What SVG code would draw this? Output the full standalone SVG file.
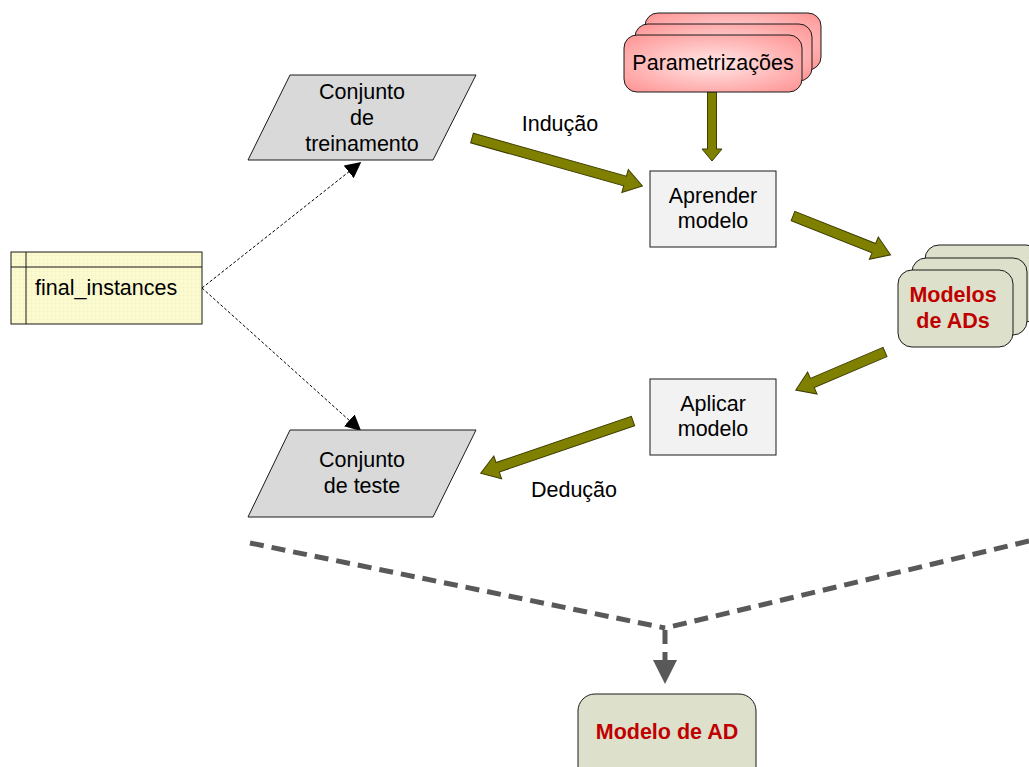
<svg xmlns="http://www.w3.org/2000/svg" width="1029" height="767" viewBox="0 0 1029 767">
  <defs>
    <radialGradient id="pinkFill" cx="50%" cy="50%" r="65%">
      <stop offset="0" stop-color="#ffe8e8"/>
      <stop offset="1" stop-color="#ff9898"/>
    </radialGradient>
    <pattern id="grid" width="4" height="4" patternUnits="userSpaceOnUse">
      <rect width="4" height="4" fill="#fbfbcf"/>
      <path d="M4 0V4H0" fill="none" stroke="#f0f0c0" stroke-width="0.6"/>
    </pattern>
    <marker id="tri" viewBox="0 0 10 10" refX="9" refY="5" markerWidth="16" markerHeight="16" markerUnits="userSpaceOnUse" orient="auto">
      <path d="M0 0L10 5L0 10Z" fill="#000"/>
    </marker>
    <marker id="grayHead" viewBox="0 0 10 10" refX="0" refY="5" markerWidth="24" markerHeight="24" markerUnits="userSpaceOnUse" orient="auto">
      <path d="M0 0L10 5L0 10Z" fill="#595959"/>
    </marker>
  </defs>
  <style>
    .lbl { font-family: "Liberation Sans", Arial, sans-serif; font-size: 21.5px; fill: #000; text-anchor: middle; }
    .red { font-family: "Liberation Sans", Arial, sans-serif; font-size: 21.5px; font-weight: bold; fill: #c00000; text-anchor: middle; }
    .para { fill: #d9d9d9; stroke: #1a1a1a; stroke-width: 1; }
    .box { fill: #f2f2f2; stroke: #1a1a1a; stroke-width: 1; }
    .pink { fill: url(#pinkFill); stroke: #1a1a1a; stroke-width: 1; }
    .sage { fill: #dde1cb; stroke: #1a1a1a; stroke-width: 1; }
    .block { fill: #808000; stroke: #3d3d00; stroke-width: 1; }
    .dotted { fill: none; stroke: #000; stroke-width: 1; stroke-dasharray: 3 2; }
    .dash { fill: none; stroke: #595959; stroke-width: 5; stroke-dasharray: 14 8; }
  </style>

  <!-- connectors -->
  <g id="connectors">
    <path class="dotted" d="M202 288L360 163" marker-end="url(#tri)"/>
    <path class="dotted" d="M202 288L360 430" marker-end="url(#tri)"/>
    <!-- Indução -->
    <path class="block" transform="translate(472 138) rotate(15.7)" d="M0 -5H159V-12L177 0L159 12V5H0Z"/>
    <!-- Parametrizações to Aprender -->
    <path class="block" transform="translate(712 92) rotate(90)" d="M0 -4.5H57V-10L69 0L57 10V4.5H0Z"/>
    <!-- Aprender to Modelos -->
    <path class="block" transform="translate(793 216) rotate(21.7)" d="M0 -5H87V-12L105 0L87 12V5H0Z"/>
    <!-- Modelos to Aplicar -->
    <path class="block" transform="translate(885 352) rotate(156.9)" d="M0 -5H79V-12L97 0L79 12V5H0Z"/>
    <!-- Dedução -->
    <path class="block" transform="translate(633 421) rotate(161.1)" d="M0 -5H143V-12L161 0L143 12V5H0Z"/>
    <!-- merge into final model -->
    <path class="dash" d="M250 543L665 628"/>
    <path class="dash" d="M1029 541L665 628"/>
    <path class="dash" d="M665 630V660" marker-end="url(#grayHead)"/>
    <text class="lbl" x="560" y="131">Indução</text>
    <text class="lbl" x="574" y="497">Dedução</text>
  </g>

  <g id="final_instances">
    <rect x="11" y="252" width="191" height="72" fill="url(#grid)" stroke="#1a1a1a"/>
    <line x1="26" y1="252" x2="26" y2="324" stroke="#1a1a1a"/>
    <line x1="11" y1="267" x2="202" y2="267" stroke="#1a1a1a"/>
    <text class="lbl" x="35" y="295" style="text-anchor:start">final_instances</text>
  </g>

  <g id="conjunto_treinamento">
    <path class="para" d="M290 75H476L433 160H248Z"/>
    <text class="lbl" x="362" y="99">Conjunto</text>
    <text class="lbl" x="362" y="125">de</text>
    <text class="lbl" x="362" y="151">treinamento</text>
  </g>

  <g id="conjunto_teste">
    <path class="para" d="M290 430H476L433 517H248Z"/>
    <text class="lbl" x="362" y="467">Conjunto</text>
    <text class="lbl" x="362" y="493">de teste</text>
  </g>

  <g id="parametrizacoes">
    <rect class="pink" x="645" y="13" width="176" height="57" rx="13"/>
    <rect class="pink" x="635" y="24" width="177" height="57" rx="13"/>
    <rect class="pink" x="624" y="35" width="178" height="57" rx="13"/>
    <text class="lbl" x="713" y="70">Parametrizações</text>
  </g>

  <g id="aprender_modelo">
    <rect class="box" x="650" y="171" width="126" height="76"/>
    <text class="lbl" x="713" y="203">Aprender</text>
    <text class="lbl" x="713" y="228">modelo</text>
  </g>

  <g id="modelos_ads">
    <rect class="sage" x="925" y="245" width="115" height="77" rx="14"/>
    <rect class="sage" x="912" y="258" width="115" height="77" rx="14"/>
    <rect class="sage" x="898" y="270" width="115" height="77" rx="14"/>
    <text class="red" x="953" y="302">Modelos</text>
    <text class="red" x="953" y="328">de ADs</text>
  </g>

  <g id="aplicar_modelo">
    <rect class="box" x="650" y="379" width="126" height="76"/>
    <text class="lbl" x="713" y="411">Aplicar</text>
    <text class="lbl" x="713" y="436">modelo</text>
  </g>

  <g id="modelo_ad">
    <rect class="sage" x="578" y="694" width="178" height="90" rx="17"/>
    <text class="red" x="667" y="739">Modelo de AD</text>
  </g>
</svg>
